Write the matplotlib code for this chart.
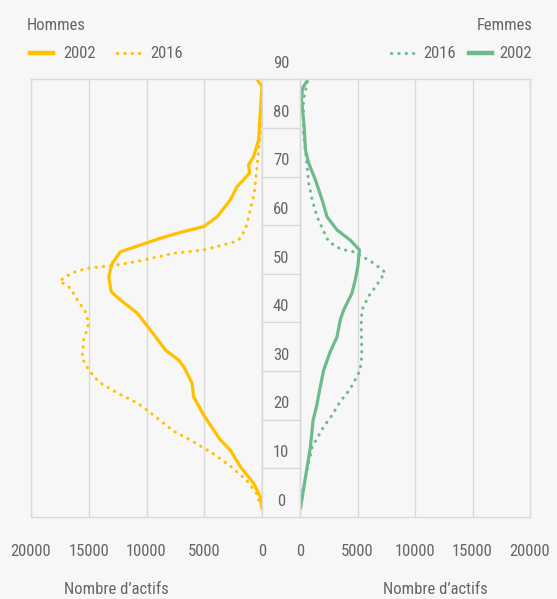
import matplotlib.pyplot as plt
import matplotlib.font_manager as fm

# values (age, number of workers)
men_2002_age = [90, 88.5, 83, 77.5, 74.1, 72.4, 70.7, 67.9, 65.2, 61.7, 59.7, 58.5, 57.3, 55.9,
                54.5, 52.1, 49.4, 46.3, 44.6, 41.9, 38.4, 35.7, 34.3, 32.2, 30.9, 27.5, 24.7,
                20.9, 15.8, 13.7, 10.3, 6.9, 4.1, 1.7]
men_2002 = [430, 0, 150, 290, 730, 1160, 1070, 2160, 2740, 3890, 5050, 7070, 8800, 10530,
            12260, 12980, 13270, 13060, 12260, 10810, 9660, 8800, 8370, 7210, 6780, 6060, 5920,
            5050, 3610, 2740, 1880, 730, 150, 0]

men_2016_age = [88.2, 79, 72, 66.5, 61.7, 59, 56.9, 56.4, 54.9, 54.2, 52.8, 51.8, 51.1, 50.2,
                48.5, 47, 44.6, 42.2, 39.8, 36.4, 32.6, 30.2, 27.7, 25.4, 23.3, 20.6, 17.6,
                15.4, 13, 10.3, 7.4, 4.8, 2.4]
men_2016 = [0, 150, 430, 670, 1160, 1450, 2020, 2600, 5050, 7650, 10240, 12540, 15140, 16440,
            17530, 16580, 16000, 15290, 15000, 15430, 15570, 15000, 14130, 12490, 10730, 9230, 7650,
            5920, 4240, 2680, 1300, 490, 150]

women_2002_age = [89.7, 88.2, 85.8, 80.3, 75.4, 72.7, 69.3, 65.2, 61.7, 59, 56.9, 54.9, 51.5,
                  48.7, 46, 42.5, 40.5, 37, 34, 30.2, 26.1, 22.6, 19.9, 14.4, 8.2, 1.7]
women_2002 = [620, 220, 130, 360, 480, 760, 1340, 1920, 2350, 3220, 4370, 5170, 5030,
              4800, 4520, 3790, 3500, 3220, 2640, 2060, 1710, 1430, 1140, 910, 480, 40]

women_2016_age = [89.5, 85.8, 78.9, 73.4, 68.6, 65.2, 61.7, 58.7, 56.6, 55.1, 54.5, 53.6, 52.2,
                  50.3, 47.7, 45.3, 42.5, 39.5, 33.3, 30.2, 28.8, 26.1, 23.7, 20.9, 18.5, 15.9,
                  14.4, 9.6, 4.8, 2]
women_2016 = [650, 300, 300, 560, 760, 1060, 1490, 2060, 2490, 3500, 4650, 5380, 6380,
              7400, 6680, 5950, 5380, 5320, 5380, 5230, 4950, 4310, 3500, 2790, 2060, 1430,
              1060, 620, 190, 40]

x_ticks = [0, 5000, 10000, 15000, 20000]
age_ticks = [0, 10, 20, 30, 40, 50, 60, 70, 80, 90]

YELLOW = '#FFC000'
GREEN = '#6DBA8D'
GRID = '#D9D9D9'
TXT = '#666666'
BG = '#F7F7F7'

names = {f.name for f in fm.fontManager.ttflist}
fam = [f for f in ['Roboto Condensed', 'Liberation Sans Narrow', 'DejaVu Sans Condensed', 'Roboto']
       if f in names]
plt.rcParams['font.family'] = fam if fam else ['DejaVu Sans']

W, H = 557, 599
fig = plt.figure(figsize=(W / 100, H / 100), dpi=100, facecolor=BG)


def box(x0, x1, y0, y1):
    # pixel box -> figure fraction
    return [x0 / W, 1 - y1 / H, (x1 - x0) / W, (y1 - y0) / H]


def ftext(x, y, s, **kw):
    fig.text(x / W, 1 - y / H, s, color=TXT, **kw)


top, bot = 79.3, 516.7
ax_l = fig.add_axes(box(31, 262, top, bot))
ax_m = fig.add_axes(box(262, 300, top, bot))
ax_r = fig.add_axes(box(300, 530, top, bot))

for ax in (ax_l, ax_m, ax_r):
    ax.set_facecolor(BG)
    ax.set_ylim(0, 90)
    ax.set_xticks([])
    ax.set_yticks([])
    for s in ax.spines.values():
        s.set_color(GRID)
        s.set_linewidth(1)

ax_l.set_xlim(20000, 0)
ax_r.set_xlim(0, 20000)
for ax in (ax_l, ax_r):
    for v in x_ticks:
        ax.axvline(v, color=GRID, lw=1, zorder=0)

solid = dict(lw=2.3, solid_joinstyle='round', solid_capstyle='round')
dotted = dict(lw=2.2, linestyle=(0, (0.1, 2.3)), dash_capstyle='round')

ax_l.plot(men_2016, men_2016_age, color=YELLOW, **dotted)
ax_l.plot(men_2002, men_2002_age, color=YELLOW, **solid)
ax_r.plot(women_2016, women_2016_age, color=GREEN, **dotted)
ax_r.plot(women_2002, women_2002_age, color=GREEN, **solid)

# age column
ax_m.set_xlim(0, 1)
for a in age_ticks[1:-1]:
    ax_m.axhline(a, color=GRID, lw=1)
for a in age_ticks:
    ax_m.text(0.5, a + 3.2, str(a), ha='center', va='center', fontsize=12, color=TXT,
              clip_on=False)

# x tick labels
for v in x_ticks:
    px_l = 262 - v * 231 / 20000
    px_r = 300 + v * 230 / 20000
    ftext(px_l, 551, str(v), ha='center', va='center', fontsize=12)
    ftext(px_r, 551, str(v), ha='center', va='center', fontsize=12)

ftext(116, 590, 'Nombre d\u2019actifs', ha='center', va='center', fontsize=12)
ftext(435, 590, 'Nombre d\u2019actifs', ha='center', va='center', fontsize=12)

# titles and legends
ftext(27, 25, 'Hommes', ha='left', va='center', fontsize=12)
ftext(533, 25, 'Femmes', ha='right', va='center', fontsize=12)

fig.add_artist(plt.Line2D([30 / W, 53 / W], [1 - 53 / H] * 2, color=YELLOW, lw=3.2))
ftext(63, 53, '2002', ha='left', va='center', fontsize=12)
fig.add_artist(plt.Line2D([117 / W, 141 / W], [1 - 53 / H] * 2, color=YELLOW, **dotted))
ftext(150, 53, '2016', ha='left', va='center', fontsize=12)

fig.add_artist(plt.Line2D([391 / W, 416 / W], [1 - 53 / H] * 2, color=GREEN, **dotted))
ftext(423, 53, '2016', ha='left', va='center', fontsize=12)
fig.add_artist(plt.Line2D([469 / W, 492 / W], [1 - 53 / H] * 2, color=GREEN, lw=3.2))
ftext(499, 53, '2002', ha='left', va='center', fontsize=12)

fig.savefig('out.png', dpi=100, facecolor=BG)
